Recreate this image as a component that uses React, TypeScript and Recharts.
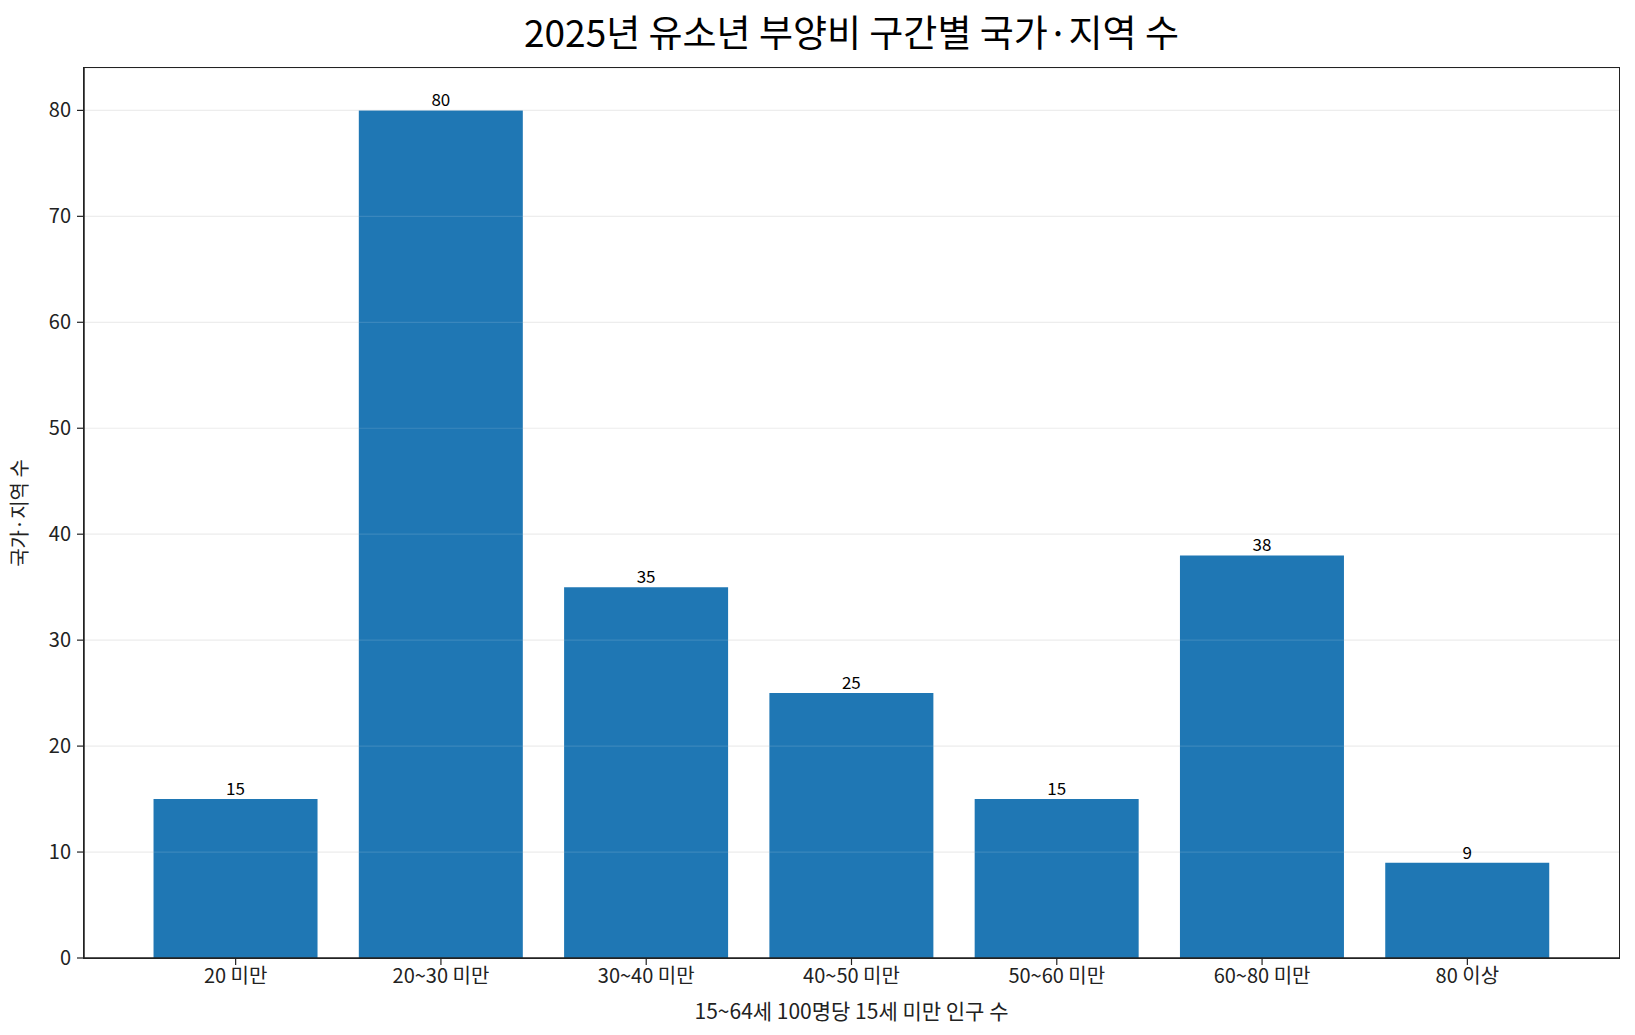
import React from 'react';
import { BarChart, Bar, XAxis, YAxis, CartesianGrid, LabelList, ReferenceLine } from 'recharts';

const categories = ['20 미만', '20~30 미만', '30~40 미만', '40~50 미만', '50~60 미만', '60~80 미만', '80 이상'];
const counts = [15, 80, 35, 25, 15, 38, 9];
const yTicks = [0, 10, 20, 30, 40, 50, 60, 70, 80];

const data = categories.map((name, i) => ({ name, value: counts[i] }));

const FONT = '"Noto Sans CJK KR", "Noto Sans", sans-serif';
const W = 1635;
const H = 1035;
// plot frame (matches chart margins + axis sizes)
const PL = 84;
const PT = 68;
const PR = 16;
const PB = 77;

export default function App() {
  return (
    <div style={{ position: 'absolute', left: 0, top: 0, width: W, height: H, background: '#fff', fontFamily: FONT }}>
      <div
        style={{
          position: 'absolute',
          left: PL,
          width: W - PL - PR,
          top: 6,
          textAlign: 'center',
          fontSize: 37,
          fontWeight: 400,
          color: '#000',
          lineHeight: '50px',
        }}
      >
        2025년 유소년 부양비 구간별 국가·지역 수
      </div>
      <BarChart
        width={W}
        height={H}
        data={data}
        margin={{ top: PT, right: PR, bottom: 0, left: 0 }}
        barCategoryGap="10%"
      >
        <CartesianGrid horizontal vertical={false} stroke="#ebebeb" strokeWidth={1.2} />
        <XAxis
          dataKey="name"
          height={PB}
          padding={{ left: 49, right: 49 }}
          axisLine={{ stroke: '#222', strokeWidth: 1.5 }}
          tickLine={{ stroke: '#222', strokeWidth: 1.2 }}
          tickSize={7}
          tick={{ fill: '#222', fontSize: 20, fontFamily: FONT, dy: 2 }}
          interval={0}
          label={{ value: '15~64세 100명당 15세 미만 인구 수', position: 'insideBottom', offset: 16, fill: '#222', fontSize: 21, fontFamily: FONT }}
        />
        <YAxis
          width={PL}
          domain={[0, 84]}
          ticks={yTicks}
          axisLine={{ stroke: '#222', strokeWidth: 1.5 }}
          tickLine={{ stroke: '#222', strokeWidth: 1.2 }}
          tickSize={7}
          tickMargin={6}
          tick={{ fill: '#222', fontSize: 20, fontFamily: FONT }}
          label={{ value: '국가·지역 수', angle: -90, position: 'insideLeft', offset: 20, fill: '#222', fontSize: 20, fontFamily: FONT, style: { textAnchor: 'middle' } }}
        />
        <Bar dataKey="value" fill="#1f77b4" isAnimationActive={false}>
          <LabelList dataKey="value" position="top" offset={4} fill="#000" fontSize={17} fontFamily={FONT} />
        </Bar>
        {yTicks.slice(1).map((t) => (
          <ReferenceLine key={t} y={t} stroke="#ffffff" strokeOpacity={0.12} strokeWidth={1.2} />
        ))}
      </BarChart>
      <div
        style={{
          position: 'absolute',
          left: PL - 0.75,
          top: PT - 0.75,
          width: W - PL - PR + 1.5,
          height: H - PT - PB + 1.5,
          border: '1.5px solid #222',
          boxSizing: 'border-box',
          pointerEvents: 'none',
        }}
      />
    </div>
  );
}
